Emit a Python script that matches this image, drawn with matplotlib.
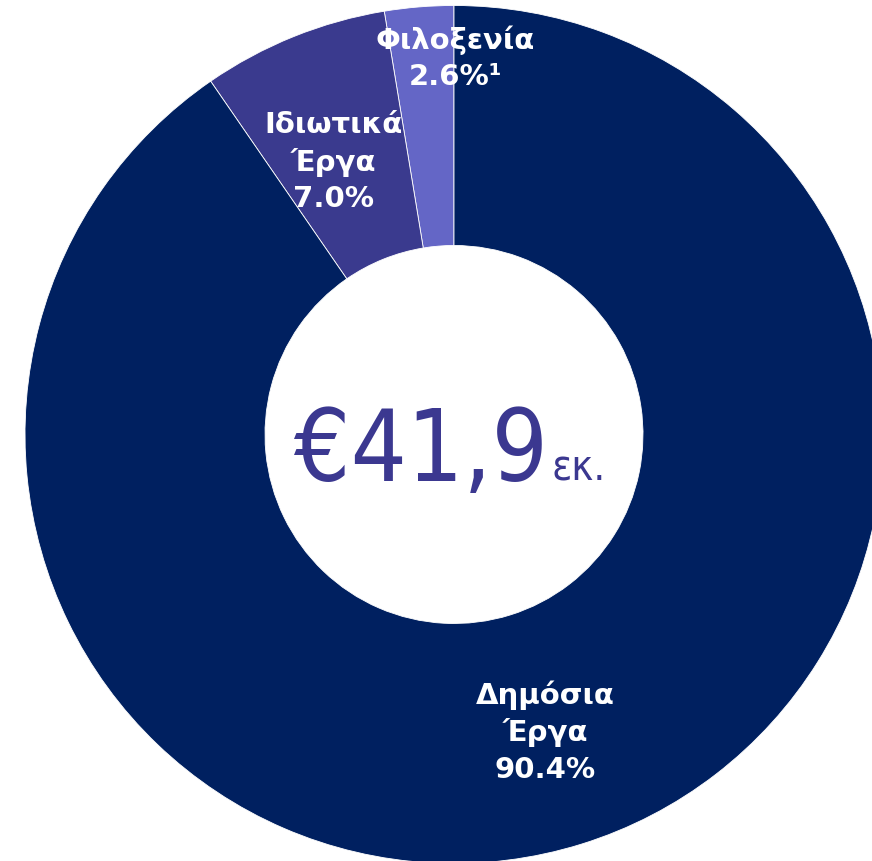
import matplotlib
matplotlib.use("Agg")
import matplotlib.pyplot as plt

# Data
categories = ["Φιλοξενία", "Ιδιωτικά\nΈργα", "Δημόσια\nΈργα"]
shares = [2.6, 7.0, 90.4]
share_labels = ["2.6%¹", "7.0%", "90.4%"]
total_text = "€41,9"
unit_text = "εκ."

colors = ["#6466C6", "#3A3A8E", "#002060"]
text_purple = "#3B3890"

W, H = 872, 862
fig = plt.figure(figsize=(W / 100, H / 100), dpi=100)
ax = fig.add_axes([0, 0, 1, 1])

cx, cy = 454, H - 435.5
R = 429
inner = 189

ax.pie(shares, colors=colors, startangle=90, counterclock=True,
       center=(cx, cy), radius=R, frame=False,
       wedgeprops=dict(width=R - inner, edgecolor="white", linewidth=0.6))
ax.set_xlim(0, W)
ax.set_ylim(0, H)
ax.set_aspect("auto")
ax.axis("off")

label_pos = [(455, H - 58), (333, H - 162), (545, H - 732)]
for cat, lab, (x, y) in zip(categories, share_labels, label_pos):
    ax.text(x, y, f"{cat}\n{lab}", ha="center", va="center", color="white",
            fontsize=21, fontweight="bold", family="DejaVu Sans", linespacing=1.38)

ax.text(548, H - 481, total_text, ha="right", va="baseline", color=text_purple,
        fontsize=71, family="DejaVu Sans", fontstretch="condensed")
ax.text(551, H - 481, unit_text, ha="left", va="baseline", color=text_purple,
        fontsize=30, family="DejaVu Sans", fontstretch="condensed")

fig.savefig("out.png", dpi=100)
